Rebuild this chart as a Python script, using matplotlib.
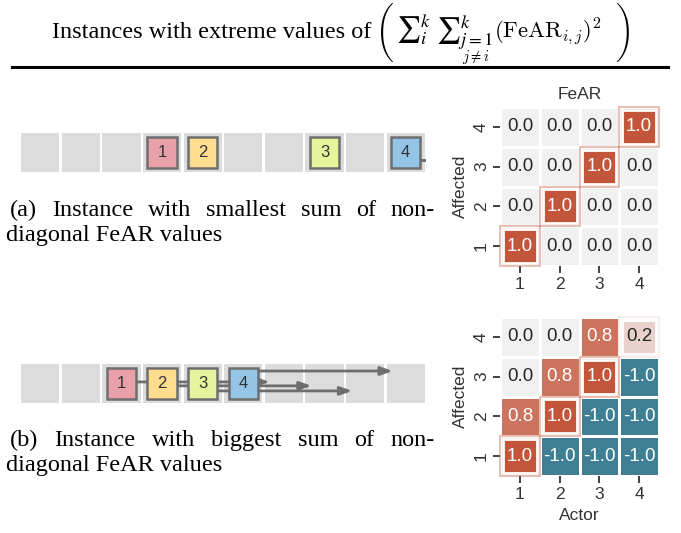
import matplotlib
matplotlib.use('Agg')
import matplotlib.pyplot as plt
import numpy as np
import seaborn as sns
from matplotlib.patches import Rectangle
from matplotlib.lines import Line2D

plt.rcParams['font.family'] = ['Liberation Sans', 'DejaVu Sans']
plt.rcParams['mathtext.fontset'] = 'cm'

# ---------------- data ----------------
actors = [1, 2, 3, 4]
affected = [4, 3, 2, 1]
fear_smallest = [[0.0, 0.0, 0.0, 1.0],
                 [0.0, 0.0, 1.0, 0.0],
                 [0.0, 1.0, 0.0, 0.0],
                 [1.0, 0.0, 0.0, 0.0]]
fear_biggest = [[0.0, 0.0, 0.8, 0.2],
                [0.0, 0.8, 1.0, -1.0],
                [0.8, 1.0, -1.0, -1.0],
                [1.0, -1.0, -1.0, -1.0]]

n_cells = 10
vehicle_ids = [1, 2, 3, 4]
vehicle_colors = ['#E9A1A9', '#FEDD8E', '#E6F49C', '#95C5E6']
pos_smallest = [3, 4, 7, 9]
end_smallest = [3, 4, 7, 10.5]
lane_smallest = [0.0, 0.0, 0.0, -0.19]
pos_biggest = [2, 3, 4, 5]
end_biggest = [5.65, 6.68, 7.68, 8.68]
lane_biggest = [0.04, -0.06, -0.19, 0.32]

title_text = 'Instances with extreme values of'
caption_a = ["(a) Instance with smallest sum of non-", "diagonal FeAR values"]
caption_b = ["(b) Instance with biggest sum of non-", "diagonal FeAR values"]

# ---------------- figure ----------------
W, H = 681, 533
fig = plt.figure(figsize=(W / 100, H / 100), dpi=100)
renderer = fig.canvas.get_renderer()


def fx(px):
    return px / W


def fy(py):
    return 1 - py / H


def px_axes(x0, y0, x1, y1):
    return fig.add_axes([fx(x0), fy(y1), (x1 - x0) / W, (y1 - y0) / H])


GRAY = '#6E6E6E'


def draw_strip(ax, pos, ends, lanes):
    ax.set_xlim(-0.5, n_cells - 0.5)
    ax.set_ylim(-0.5, 0.5)
    ax.axis('off')
    for i in range(n_cells):
        ax.add_patch(Rectangle((i - 0.47, -0.5), 0.94, 1.0, fc='#DCDCDC', ec='none', zorder=1))
    for p, e, l in zip(pos, ends, lanes):
        if e == p:
            continue
        if e > n_cells - 0.5:
            ax.plot([p, e], [l, l], color=GRAY, lw=2, zorder=2, clip_on=True, solid_capstyle='butt')
        else:
            ax.annotate('', xy=(e, l), xytext=(p, l),
                        arrowprops=dict(arrowstyle='-|>,head_length=0.7,head_width=0.25',
                                        color=GRAY, lw=2, shrinkA=0, shrinkB=0),
                        zorder=2)
    for vid, p, c in zip(vehicle_ids, pos, vehicle_colors):
        ax.add_patch(Rectangle((p - 0.36, -0.39), 0.72, 0.78, fc=c, ec=GRAY, lw=1.8, zorder=3))
        ax.text(p, 0, str(vid), ha='center', va='center', fontsize=12, color='#333333', zorder=4)


cmap = sns.diverging_palette(220, 20, as_cmap=True)


def draw_heat(ax, data, title=None, xlabel=None):
    arr = np.array(data)
    sns.heatmap(arr, ax=ax, cmap=cmap, vmin=-1, vmax=1, annot=True, fmt='.1f',
                cbar=False, linewidths=1, linecolor='white',
                xticklabels=actors, yticklabels=affected,
                annot_kws={'fontsize': 13.5})
    ax.tick_params(length=5, width=1.3, color='#333333', labelsize=12.5, labelcolor='#333333', pad=3)
    for t in ax.get_yticklabels():
        t.set_rotation(90)
        t.set_va('center')
    ax.set_ylabel('Affected', fontsize=12.5, color='#333333', labelpad=4)
    if title:
        ax.set_title(title, fontsize=12.5, color='#333333', pad=6)
    if xlabel:
        ax.set_xlabel(xlabel, fontsize=12.5, color='#333333', labelpad=4)
    else:
        ax.set_xlabel('')
    # highlight diagonal (actor == affected)
    for ci, a in enumerate(actors):
        ri = affected.index(a)
        v = arr[ri, ci]
        ax.add_patch(Rectangle((ci, ri), 1, 1, fill=False, ec=cmap((v + 1) / 2), alpha=0.45,
                               lw=1.2, zorder=5, clip_on=False))
        ax.add_patch(Rectangle((ci + 0.07, ri + 0.07), 0.86, 0.86, fill=False, ec='white',
                               lw=2, zorder=6, clip_on=False))


# strips
ax_s1 = px_axes(20, 133, 426, 172)
draw_strip(ax_s1, pos_smallest, end_smallest, lane_smallest)
ax_s2 = px_axes(20, 364, 426, 403)
draw_strip(ax_s2, pos_biggest, end_biggest, lane_biggest)

# heatmaps
ax_h1 = px_axes(500, 107, 659, 266)
draw_heat(ax_h1, fear_smallest, title='FeAR')
ax_h2 = px_axes(500, 317, 659, 476)
draw_heat(ax_h2, fear_biggest, xlabel='Actor')

# title
SERIF = 'Liberation Serif'
TS = 17.5
B = 38
fig.text(fx(52), fy(B), title_text, fontsize=TS, family=SERIF, va='baseline', ha='left')
# big delimiter (TeX \biggl( glyph from cmex10)
fig.text(fx(376), fy(33), '\xb5', fontsize=TS, family='cmex10', va='center', ha='left')
s1 = fig.text(fx(396), fy(B), r'${\sum}_i^k$', fontsize=19, va='baseline', ha='left',
              math_fontfamily='stix')
x_next = s1.get_window_extent(renderer).x1 + 5
s2 = fig.text(fx(x_next), fy(B), r'${\sum}_{j=1}^k$', fontsize=19, va='baseline', ha='left',
              math_fontfamily='stix')
ex2 = s2.get_window_extent(renderer)
fig.text(fx(ex2.x0 + 0.45 * ex2.width), fy(B + 23), r'$j\neq i$', fontsize=10.5,
         va='baseline', ha='left')
s3 = fig.text(fx(ex2.x1 + 1), fy(B), r'$(\mathrm{FeAR}_{i,j})^2$', fontsize=16.3,
              va='baseline', ha='left')
x_end = s3.get_window_extent(renderer).x1
fig.text(fx(x_end + 13), fy(33), '\xb6', fontsize=TS, family='cmex10', va='center', ha='left')

# rule
fig.add_artist(Line2D([fx(12), fx(668)], [fy(67), fy(67)], color='black', lw=2.2,
                      transform=fig.transFigure))


def justified(text, x0, x1, yb):
    words = text.split()
    ts = [fig.text(0, fy(yb), w, fontsize=TS, family=SERIF, va='baseline', ha='left') for w in words]
    widths = [t.get_window_extent(renderer).width for t in ts]
    gap = (x1 - x0 - sum(widths)) / (len(words) - 1)
    x = x0
    for t, w in zip(ts, widths):
        t.set_x(fx(x))
        x += w + gap


def plain(text, x0, yb):
    fig.text(fx(x0), fy(yb), text, fontsize=TS, family=SERIF, va='baseline', ha='left')


justified(caption_a[0], 10, 435, 216)
plain(caption_a[1], 6, 241)
justified(caption_b[0], 10, 435, 446)
plain(caption_b[1], 6, 471)

fig.savefig('out.png', dpi=100)
